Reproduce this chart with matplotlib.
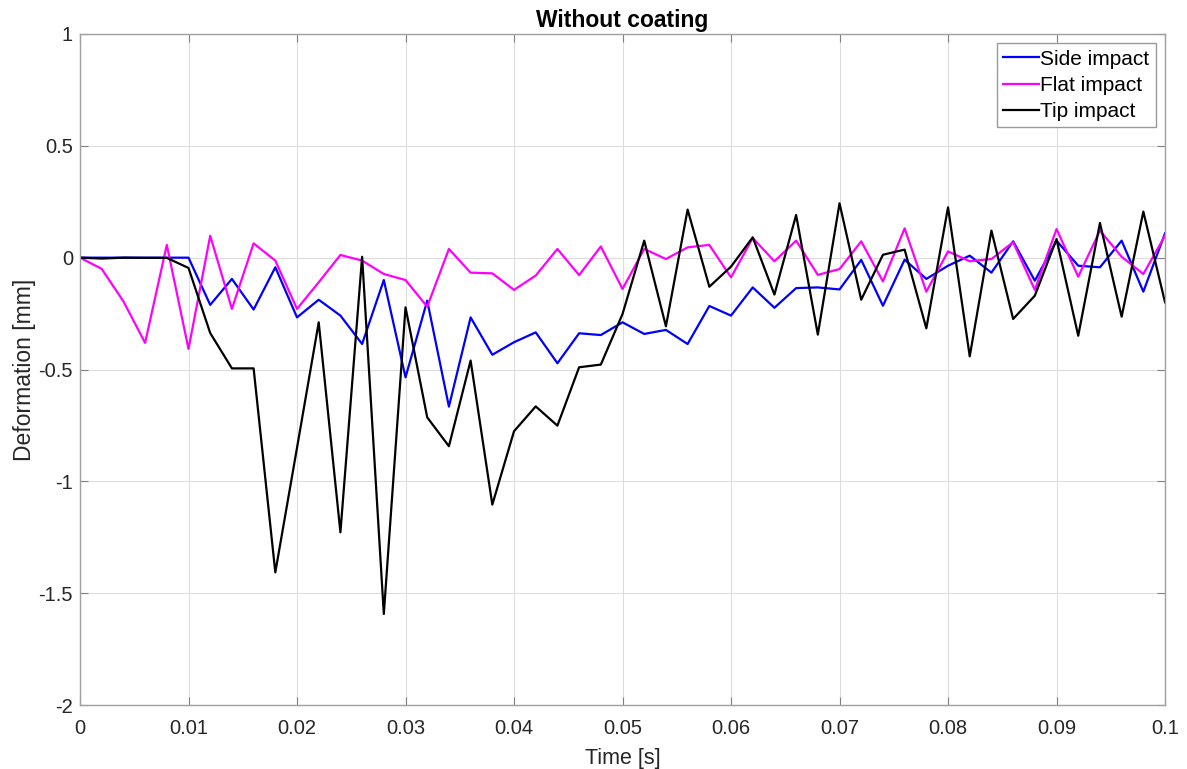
import numpy as np
import matplotlib.pyplot as plt

plt.rcParams['font.family'] = ['Liberation Sans', 'DejaVu Sans']

# time axis, one sample every 2 ms
time = np.round(np.arange(0, 0.1001, 0.002), 3)

side_impact = [
    0, 0, 0, 0, 0, 0, -0.211, -0.095, -0.232, -0.043,
    -0.267, -0.188, -0.259, -0.386, -0.100, -0.535, -0.192, -0.666, -0.267, -0.434,
    -0.378, -0.334, -0.472, -0.338, -0.346, -0.289, -0.341, -0.323, -0.386, -0.216,
    -0.259, -0.133, -0.224, -0.136, -0.133, -0.142, -0.010, -0.215, -0.009, -0.095,
    -0.036, 0.009, -0.067, 0.073, -0.103, 0.076, -0.036, -0.043, 0.076, -0.152,
    0.109,
]
flat_impact = [
    0, -0.050, -0.195, -0.381, 0.057, -0.408, 0.098, -0.229, 0.064, -0.013,
    -0.229, -0.110, 0.012, -0.013, -0.073, -0.100, -0.219, 0.039, -0.067, -0.070,
    -0.144, -0.080, 0.039, -0.078, 0.050, -0.140, 0.039, -0.006, 0.046, 0.057,
    -0.088, 0.088, -0.016, 0.076, -0.077, -0.051, 0.073, -0.106, 0.131, -0.152,
    0.028, -0.016, -0.006, 0.069, -0.144, 0.128, -0.085, 0.121, 0.004, -0.073,
    0.098,
]
tip_impact = [
    0, -0.004, 0, -0.001, -0.001, -0.046, -0.337, -0.495, -0.495, -1.407,
    -0.850, -0.289, -1.228, 0.004, -1.593, -0.222, -0.714, -0.843, -0.460, -1.104,
    -0.776, -0.665, -0.751, -0.490, -0.478, -0.252, 0.076, -0.307, 0.215, -0.130,
    -0.040, 0.091, -0.165, 0.191, -0.344, 0.243, -0.188, 0.013, 0.036, -0.316,
    0.225, -0.441, 0.121, -0.274, -0.170, 0.083, -0.349, 0.155, -0.264, 0.206,
    -0.200,
]

fig = plt.figure(figsize=(11.87, 7.69), dpi=100)
ax = fig.add_axes([0.0674, 0.0832, 0.9141, 0.8726])

ax.plot(time, side_impact, color='#0000ff', lw=1.6, label='Side impact')
ax.plot(time, flat_impact, color='#ff00ff', lw=1.6, label='Flat impact')
ax.plot(time, tip_impact, color='#000000', lw=1.6, label='Tip impact')

ax.set_xlim(0, 0.1)
ax.set_ylim(-2, 1)
ax.set_xticks(np.arange(0, 0.1001, 0.01))
ax.set_xticklabels(['0'] + ['%.2f' % v for v in np.arange(0.01, 0.095, 0.01)] + ['0.1'])
ax.set_yticks([-2, -1.5, -1, -0.5, 0, 0.5, 1])
ax.set_yticklabels(['-2', '-1.5', '-1', '-0.5', '0', '0.5', '1'])

ax.grid(True, color='#dcdcdc', lw=0.8)
ax.set_axisbelow(True)
for side in ax.spines.values():
    side.set_color('#a0a0a0')
    side.set_linewidth(1.0)
ax.tick_params(direction='in', length=6, color='#808080', labelsize=14.5,
               labelcolor='#262626', top=True, right=True)
ax.tick_params(axis='x', pad=10)
ax.tick_params(axis='y', pad=5)

ax.set_xlabel('Time [s]', fontsize=15.5, color='#262626', labelpad=7)
ax.set_ylabel('Deformation [mm]', fontsize=16.5, color='#262626', labelpad=1.5)
ax.set_title('Without coating', fontsize=16.5, fontweight='bold', pad=5)

leg = ax.legend(loc='upper right', fontsize=15, fancybox=False, framealpha=1,
                edgecolor='#999999', handlelength=1.75, handletextpad=0.05,
                borderpad=0.3, labelspacing=0.35, borderaxespad=0.45)
leg.get_frame().set_linewidth(1.0)

fig.savefig('out.png', dpi=100)
